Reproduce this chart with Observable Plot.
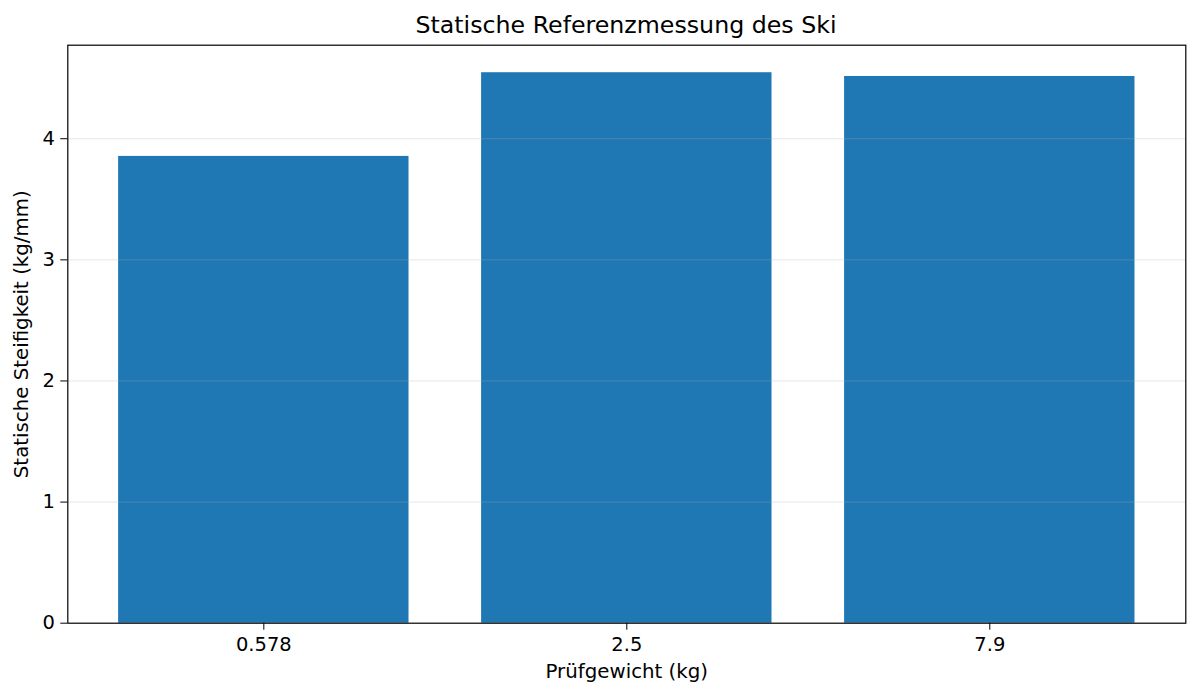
<!DOCTYPE html>
<html>
<head>
<meta charset="utf-8">
<script src="https://cdn.jsdelivr.net/npm/d3@7"></script>
<script src="https://cdn.jsdelivr.net/npm/@observablehq/plot@0.6"></script>
<style>
  html, body { margin: 0; padding: 0; background: #fff; }
  #title { font-family: "DejaVu Sans", sans-serif; font-size: 23.7px; line-height: 26px; height: 22px; padding-top: 12px; width: 1200px; color: #000; }
  #title span { position: relative; left: 626px; display: inline-block; transform: translateX(-50%); white-space: nowrap; }
</style>
</head>
<body>
<div id="title"><span>Statische Referenzmessung des Ski</span></div>
<div id="chart"></div>
<script>
const categories = ["0.578", "2.5", "7.9"];
const stiffness = [3.854, 4.545, 4.514];
const yTicks = [0, 1, 2, 3, 4];
const xLabel = "Prüfgewicht (kg)";
const yLabel = "Statische Steifigkeit (kg/mm)";

const data = categories.map((c, i) => ({weight: c, value: stiffness[i]}));
const yMax = d3.max(stiffness) * 1.05;

const chart = Plot.plot({
  width: 1200,
  height: 663,
  marginTop: 10.7,
  marginBottom: 74.3,
  marginLeft: 67.3,
  marginRight: 14.7,
  style: {fontFamily: "DejaVu Sans, sans-serif", fontSize: "19.5px", color: "#000", background: "#fff"},
  x: {domain: categories, paddingInner: 0.2, paddingOuter: 0.14, align: 0.5, round: false},
  y: {domain: [0, yMax]},
  marks: [
    Plot.barY(data, {x: "weight", y: "value", fill: "#1f77b4"}),
    Plot.ruleY(yTicks.filter(t => t > 0), {stroke: "#b0b0b0", strokeOpacity: 0.3, strokeWidth: 1}),
    Plot.frame({stroke: "#000", strokeWidth: 1.2}),
    Plot.axisX({tickSize: 7, tickPadding: 7, label: null, fontSize: 19.5, stroke: "#000"}),
    Plot.axisY({ticks: yTicks, tickSize: 7, tickPadding: 6, label: null, fontSize: 19.5, tickFormat: d3.format("d"), stroke: "#000"}),
    Plot.text([xLabel], {text: d => d, frameAnchor: "bottom", dy: 48, lineAnchor: "middle", textAnchor: "middle", fontSize: 19.8, fill: "#000"}),
    Plot.text([yLabel], {text: d => d, frameAnchor: "left", dx: -46.5, rotate: -90, lineAnchor: "middle", textAnchor: "middle", fontSize: 19.8, fill: "#000"})
  ]
});
document.getElementById("chart").appendChild(chart);
</script>
</body>
</html>
